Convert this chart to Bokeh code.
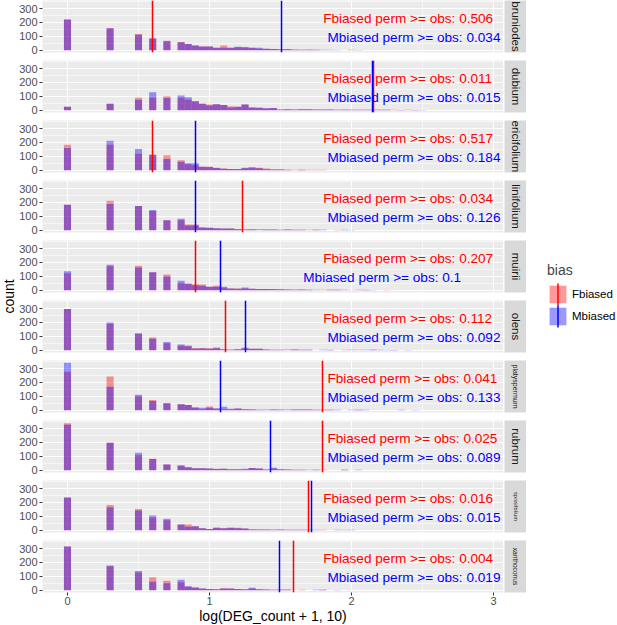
from math import pi
from bokeh.plotting import figure
from bokeh.layouts import row, column
from bokeh.models import Range1d, FixedTicker, Grid, Legend, LegendItem, ColumnDataSource
from bokeh.embed import file_html
from bokeh.resources import INLINE
from bokeh.core.properties import value

# ---------------- data ----------------
SPECIES = ["bruniodes", "dubium", "ericifolium", "linifolium", "muirii",
           "olens", "platyspermum", "rubrum", "spissifolium", "xanthoconus"]

BIN_CENTERS = [0.00, 0.30, 0.50, 0.60, 0.70, 0.80, 0.85, 0.90, 0.95, 1.00,
               1.05, 1.10, 1.15, 1.20, 1.25, 1.30, 1.35, 1.40, 1.45, 1.50,
               1.55, 1.60, 1.65, 1.70, 1.75, 1.80, 1.85, 1.90, 1.95, 2.00,
               2.05, 2.10, 2.15, 2.20, 2.25, 2.30, 2.35, 2.40, 2.45, 2.50]

F_BRUNIODES = [222, 158, 116, 85, 68, 59, 45, 33, 27, 26, 18, 33, 18, 20, 20, 18, 10, 10, 8, 6,
               8, 3, 3, 4, 3, 0, 2, 0, 0, 3, 0, 0, 0, 0, 0, 0, 0, 0, 0, 0]
M_BRUNIODES = [222, 158, 111, 85, 64, 57, 45, 33, 27, 26, 18, 17, 18, 24, 20, 18, 17, 10, 8, 6,
               6, 5, 3, 2, 3, 2, 0, 1, 0, 0, 1, 0, 0, 0, 0, 0, 0, 0, 0, 0]
F_DUBIUM = [24, 47, 90, 90, 101, 90, 75, 64, 47, 40, 42, 38, 28, 24, 40, 19, 18, 14, 16, 5,
            3, 5, 6, 6, 5, 4, 4, 3, 4, 3, 2, 2, 3, 2, 2, 2, 1, 2, 1, 0]
M_DUBIUM = [24, 47, 75, 130, 87, 106, 94, 64, 47, 33, 42, 38, 19, 24, 40, 19, 18, 14, 16, 5,
            8, 5, 6, 6, 5, 4, 4, 3, 2, 3, 2, 2, 3, 2, 2, 0, 1, 0, 1, 1]
F_ERICIFOLIUM = [184, 184, 118, 113, 108, 71, 42, 35, 24, 24, 17, 12, 9, 9, 14, 17, 17, 12, 7, 6,
                 3, 3, 2, 2, 3, 2, 0, 0, 0, 0, 0, 0, 0, 0, 0, 0, 0, 0, 0, 0]
M_ERICIFOLIUM = [160, 212, 153, 110, 80, 61, 50, 50, 24, 22, 15, 10, 9, 9, 17, 20, 14, 7, 5, 4,
                 3, 0, 2, 0, 0, 0, 0, 0, 0, 0, 0, 0, 0, 0, 0, 0, 0, 0, 0, 0]
F_LINIFOLIUM = [184, 212, 175, 139, 71, 71, 40, 40, 19, 17, 14, 12, 12, 9, 5, 5, 0, 5, 5, 3,
                4, 3, 3, 2, 2, 0, 0, 1, 0, 0, 0, 0, 0, 0, 0, 0, 0, 0, 0, 0]
M_LINIFOLIUM = [184, 189, 175, 146, 71, 83, 33, 33, 19, 17, 14, 12, 12, 7, 5, 7, 7, 5, 5, 3,
                4, 3, 3, 0, 2, 2, 0, 0, 2, 1, 0, 0, 0, 0, 0, 0, 0, 0, 0, 0]
F_MUIRII = [123, 172, 177, 130, 113, 50, 47, 42, 40, 24, 31, 17, 12, 12, 12, 10, 8, 8, 7, 6,
            4, 5, 4, 3, 0, 3, 2, 2, 0, 1, 0, 3, 0, 0, 1, 0, 0, 0, 0, 0]
M_MUIRII = [137, 184, 163, 130, 99, 68, 47, 35, 31, 24, 24, 24, 12, 10, 19, 10, 8, 8, 9, 6,
            4, 3, 4, 3, 3, 0, 2, 3, 2, 0, 2, 1, 1, 0, 0, 0, 0, 0, 0, 0]
F_OLENS = [297, 191, 120, 92, 50, 31, 33, 14, 14, 14, 19, 7, 5, 7, 12, 10, 10, 5, 2, 3,
           0, 4, 3, 2, 0, 0, 3, 0, 2, 0, 2, 0, 2, 0, 0, 1, 0, 0, 0, 0]
M_OLENS = [297, 200, 120, 83, 59, 40, 28, 12, 14, 10, 14, 7, 3, 7, 17, 10, 10, 5, 2, 3,
           4, 4, 3, 2, 0, 2, 1, 0, 0, 2, 0, 2, 2, 2, 1, 1, 0, 1, 0, 0]
F_PLATYSPERMUM = [278, 243, 101, 73, 50, 42, 38, 19, 7, 26, 12, 7, 7, 12, 9, 7, 3, 0, 5, 4,
                  0, 5, 6, 5, 2, 3, 3, 0, 0, 0, 2, 0, 0, 0, 0, 0, 0, 0, 0, 0]
M_PLATYSPERMUM = [342, 170, 111, 66, 50, 42, 38, 19, 17, 17, 12, 24, 10, 12, 5, 4, 3, 5, 5, 2,
                  5, 5, 3, 5, 2, 3, 3, 3, 0, 3, 2, 2, 0, 0, 0, 0, 2, 0, 1, 0]
F_RUBRUM = [340, 198, 108, 83, 40, 33, 21, 14, 14, 12, 10, 10, 7, 7, 5, 16, 12, 5, 12, 7,
            4, 3, 2, 0, 2, 2, 0, 0, 2, 0, 0, 0, 0, 0, 0, 0, 0, 0, 0, 0]
M_RUBRUM = [328, 198, 125, 80, 40, 33, 21, 14, 14, 12, 8, 10, 7, 7, 10, 16, 12, 5, 17, 7,
            4, 3, 2, 2, 2, 0, 0, 0, 2, 0, 2, 0, 0, 0, 0, 0, 0, 0, 0, 0]
F_SPISSIFOLIUM = [236, 181, 153, 92, 71, 40, 40, 28, 14, 9, 17, 14, 17, 17, 12, 7, 5, 5, 5, 4,
                  3, 3, 2, 2, 0, 2, 0, 0, 2, 0, 0, 0, 0, 0, 0, 0, 0, 0, 0, 0]
M_SPISSIFOLIUM = [236, 165, 142, 106, 83, 40, 24, 28, 14, 9, 17, 14, 17, 14, 12, 5, 5, 5, 3, 4,
                  3, 3, 2, 2, 3, 0, 0, 2, 0, 2, 0, 0, 0, 0, 0, 0, 0, 0, 0, 0]
F_XANTHOCONUS = [316, 172, 127, 94, 68, 57, 24, 19, 12, 9, 7, 14, 12, 9, 9, 12, 9, 4, 3, 3,
                 2, 0, 2, 0, 0, 2, 0, 0, 0, 0, 0, 0, 0, 0, 0, 0, 0, 0, 0, 0]
M_XANTHOCONUS = [316, 179, 139, 61, 50, 75, 28, 19, 12, 9, 7, 12, 12, 9, 5, 17, 5, 4, 3, 5,
                 5, 0, 0, 0, 2, 2, 0, 1, 0, 0, 0, 0, 0, 0, 0, 0, 0, 0, 0, 0]

F_COUNTS = [F_BRUNIODES, F_DUBIUM, F_ERICIFOLIUM, F_LINIFOLIUM, F_MUIRII,
            F_OLENS, F_PLATYSPERMUM, F_RUBRUM, F_SPISSIFOLIUM, F_XANTHOCONUS]
M_COUNTS = [M_BRUNIODES, M_DUBIUM, M_ERICIFOLIUM, M_LINIFOLIUM, M_MUIRII,
            M_OLENS, M_PLATYSPERMUM, M_RUBRUM, M_SPISSIFOLIUM, M_XANTHOCONUS]

# observed log10(DEG_count + 1)
F_OBS = [0.602, 2.152, 0.602, 1.230, 0.903, 1.114, 1.799, 1.799, 1.699, 1.591]
M_OBS = [1.505, 2.146, 0.903, 0.903, 1.079, 1.255, 1.079, 1.431, 1.716, 1.491]

F_PERM = [0.506, 0.011, 0.517, 0.034, 0.207, 0.112, 0.041, 0.025, 0.016, 0.004]
M_PERM = [0.034, 0.015, 0.184, 0.126, 0.1, 0.092, 0.133, 0.089, 0.015, 0.019]

X_TICKS = [0, 1, 2, 3]
Y_TICKS = [0, 100, 200, 300]

# ---------------- layout / style ----------------
FONT = "Liberation Sans"
F_COL = "red"
M_COL = "blue"
F_TEXT_X = {"platyspermum": 1.83, "rubrum": 1.83}
M_TEXT_X = {"muirii": 1.66}
STRIP_SIZE = {"platyspermum": "7px", "spissifolium": "5.6px", "xanthoconus": "6.6px"}

FRAME_W = 461
FRAME_H = 52
GAP = 8
N = len(SPECIES)
PANEL_AREA_H = (N - 1) * (FRAME_H + GAP) + FRAME_H

xr = Range1d(-0.176, 3.07)
yr = Range1d(-17.1, 359.1)


def strip_grids(fig):
    fig.center = [c for c in fig.center if not isinstance(c, Grid)]


def style_axis(ax):
    ax.axis_line_color = None
    ax.major_tick_line_color = "#333333"
    ax.major_tick_in = 0
    ax.major_tick_out = 3
    ax.minor_tick_line_color = None
    ax.major_label_text_font = FONT
    ax.major_label_text_font_size = "11px"
    ax.major_label_text_color = "#4D4D4D"
    ax.major_label_standoff = 2


panels = []
strips = []
for i, sp in enumerate(SPECIES):
    last = (i == N - 1)
    p = figure(frame_width=FRAME_W, frame_height=FRAME_H, x_range=xr, y_range=yr,
               output_backend="svg", toolbar_location=None,
               x_axis_location="below" if last else None,
               min_border_left=25, min_border_right=0, min_border_top=0,
               min_border_bottom=32 if last else GAP)
    p.background_fill_color = "#EBEBEB"
    p.border_fill_color = "white"
    p.outline_line_color = None
    strip_grids(p)
    p.add_layout(Grid(dimension=0, ticker=FixedTicker(ticks=X_TICKS, minor_ticks=[0.5, 1.5, 2.5]),
                      grid_line_color="white", grid_line_width=1.1,
                      minor_grid_line_color="white", minor_grid_line_width=0.55), "center")
    p.add_layout(Grid(dimension=1, ticker=FixedTicker(ticks=Y_TICKS, minor_ticks=[50, 150, 250, 350]),
                      grid_line_color="white", grid_line_width=1.1,
                      minor_grid_line_color="white", minor_grid_line_width=0.55), "center")

    ax = p.yaxis[0]
    ax.ticker = FixedTicker(ticks=Y_TICKS)
    style_axis(ax)
    if last:
        xa = p.xaxis[0]
        xa.ticker = FixedTicker(ticks=X_TICKS)
        style_axis(xa)
        xa.major_label_standoff = 1
        xa.axis_label = "log(DEG_count + 1, 10)"
        xa.axis_label_text_font = FONT
        xa.axis_label_text_font_size = "14px"
        xa.axis_label_text_font_style = "normal"
        xa.axis_label_text_color = "black"
        xa.axis_label_standoff = 0

    src = ColumnDataSource(dict(x=BIN_CENTERS, f=F_COUNTS[i], m=M_COUNTS[i]))
    p.vbar(x="x", top="f", bottom=0, width=0.05, source=src,
           fill_color=F_COL, fill_alpha=0.4, line_color=None)
    p.vbar(x="x", top="m", bottom=0, width=0.05, source=src,
           fill_color=M_COL, fill_alpha=0.4, line_color=None)
    p.vspan(x=[F_OBS[i]], line_color=F_COL, line_width=1.5)
    p.vspan(x=[M_OBS[i]], line_color=M_COL, line_width=1.5)

    p.text(x=[F_TEXT_X.get(sp, 1.80)], y=[232], text=[f"Fbiased perm >= obs: {F_PERM[i]}"],
           text_color=F_COL, text_font=value(FONT), text_font_size="13.6px",
           text_align="left", text_baseline="middle")
    p.text(x=[M_TEXT_X.get(sp, 1.83)], y=[88], text=[f"Mbiased perm >= obs: {M_PERM[i]}"],
           text_color=M_COL, text_font=value(FONT), text_font_size="13.6px",
           text_align="left", text_baseline="middle")
    panels.append(p)

    s = figure(frame_width=22, frame_height=FRAME_H, x_range=(0, 1), y_range=(0, 1),
               output_backend="svg", toolbar_location=None,
               x_axis_location=None, y_axis_location=None,
               min_border_left=1, min_border_right=0, min_border_top=0, min_border_bottom=GAP)
    s.background_fill_color = "#D9D9D9"
    s.border_fill_color = "white"
    s.outline_line_color = None
    strip_grids(s)
    s.text(x=[0.5], y=[0.5], text=[sp], angle=-pi / 2, text_color="#1A1A1A",
           text_font=value(FONT), text_font_size=STRIP_SIZE.get(sp, "11.5px"),
           text_align="center", text_baseline="middle")
    strips.append(s)

# y-axis title
yt = figure(frame_width=16, frame_height=PANEL_AREA_H, x_range=(0, 1), y_range=(0, 1),
            output_backend="svg", toolbar_location=None,
            x_axis_location=None, y_axis_location=None, min_border=0)
yt.outline_line_color = None
strip_grids(yt)
yt.text(x=[0.5], y=[0.5], text=["count"], angle=pi / 2, text_color="black",
        text_font=value(FONT), text_font_size="14px",
        text_align="center", text_baseline="middle")

# legend (coordinates of this small figure are its own pixels)
LG_W = 90
KEY_W, KEY_H = 21, 22
LEG_X, LEG_Y = 21, 265
lg = figure(frame_width=LG_W, frame_height=PANEL_AREA_H, x_range=(0, LG_W), y_range=(0, PANEL_AREA_H),
            output_backend="svg", toolbar_location=None,
            x_axis_location=None, y_axis_location=None, min_border=0)
lg.outline_line_color = None
strip_grids(lg)
rF = lg.vbar(x=[-50], top=[1], width=1, fill_color=F_COL, fill_alpha=0.4, line_color=None)
rM = lg.vbar(x=[-50], top=[1], width=1, fill_color=M_COL, fill_alpha=0.4, line_color=None)
legend = Legend(items=[LegendItem(label="Fbiased", renderers=[rF]),
                       LegendItem(label="Mbiased", renderers=[rM])],
                title="bias", location=(LEG_X, LEG_Y), margin=0, padding=0, spacing=0,
                glyph_width=KEY_W, glyph_height=KEY_H, label_height=KEY_H, label_standoff=4,
                border_line_color=None, background_fill_alpha=0,
                title_text_font=FONT, title_text_font_size="14px", title_text_font_style="normal",
                title_standoff=5,
                label_text_font=FONT, label_text_font_size="11.5px", label_text_color="black")
lg.add_layout(legend, "center")
# vertical rule drawn through each legend key (like geom_vline keys)
lg.segment(x0=[LEG_X + KEY_W / 2] * 2, x1=[LEG_X + KEY_W / 2] * 2,
           y0=[LEG_Y + KEY_H, LEG_Y], y1=[LEG_Y + 2 * KEY_H, LEG_Y + KEY_H],
           line_color=[F_COL, M_COL], line_width=1.5)

layout = row(yt, column(*panels), column(*strips), lg)

open("out.html", "w").write(file_html(layout, INLINE))
